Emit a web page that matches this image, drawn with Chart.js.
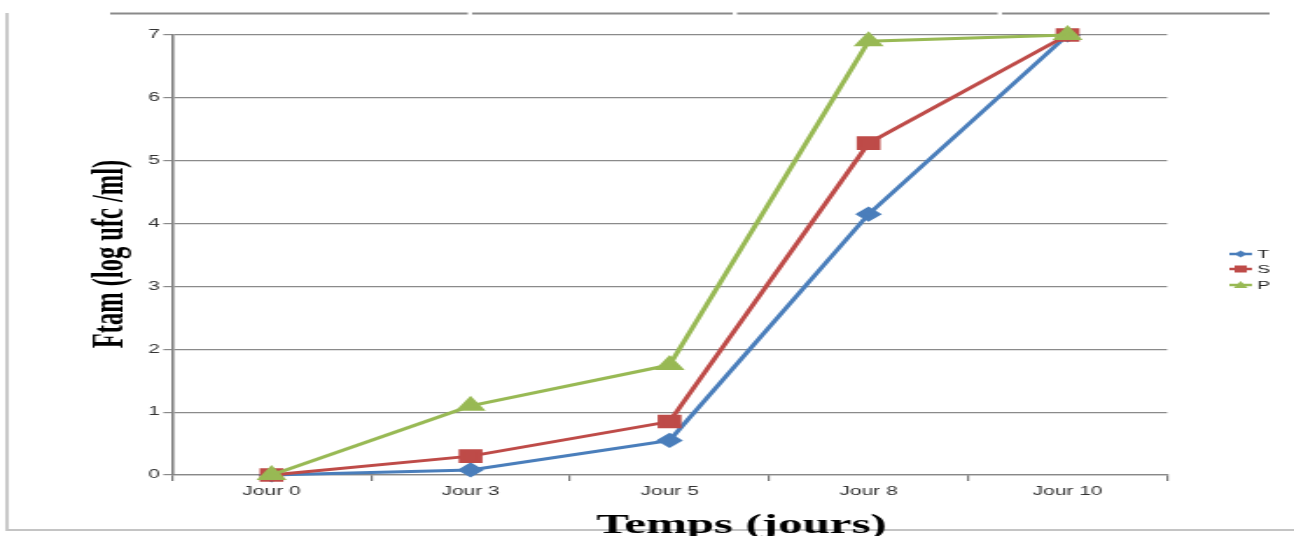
<!DOCTYPE html>
<html>
<head>
<meta charset="utf-8">
<script src="https://cdn.jsdelivr.net/npm/chart.js@4/dist/chart.umd.min.js"></script>
<style>
  html, body { margin: 0; padding: 0; background: #fff; overflow: hidden; }
  /* the original picture is stretched sideways, so the canvas is too */
  #ftam { width: 1294px; height: 536px; }
</style>
</head>
<body>
<canvas id="ftam" width="740" height="536" style="width:1294px;height:536px"></canvas>
<script>
// Daten
const jours = ['Jour 0', 'Jour 3', 'Jour 5', 'Jour 8', 'Jour 10'];
const serieT = [0, 0.08, 0.55, 4.15, 7];
const serieS = [0, 0.3, 0.85, 5.28, 7];
const serieP = [0, 1.1, 1.75, 6.9, 7];
const yTicks = [0, 1, 2, 3, 4, 5, 6, 7];

const bleu = '#4a7ebb';
const rouge = '#be4b48';
const vert = '#98b954';

// Rahmen, Achsentitel und Legende selbst zeichnen
const decoration = {
  id: 'decoration',
  beforeDraw(chart) {
    const ctx = chart.ctx;
    ctx.save();
    ctx.strokeStyle = '#c4c4c4';
    ctx.lineWidth = 1.8;
    ctx.beginPath();
    ctx.moveTo(4, 13);
    ctx.lineTo(4, 530);
    ctx.lineTo(740, 530);
    ctx.stroke();

    ctx.strokeStyle = '#8a8a8a';
    ctx.lineWidth = 2;
    [[63, 267.5], [270, 419], [421.5, 570.5], [573, 726]].forEach(([a, b]) => {
      ctx.beginPath();
      ctx.moveTo(a, 13.5);
      ctx.lineTo(b, 13.5);
      ctx.stroke();
    });
    ctx.restore();
  },
  afterDraw(chart) {
    const ctx = chart.ctx;
    ctx.save();
    ctx.fillStyle = '#000';

    // x title
    ctx.font = 'bold 28px "Liberation Serif", "DejaVu Serif", serif';
    ctx.textAlign = 'center';
    ctx.textBaseline = 'alphabetic';
    ctx.fillText('Temps (jours)', 424, 533);

    // y title
    ctx.translate(70, 254);
    ctx.rotate(-Math.PI / 2);
    ctx.font = 'bold 24.5px "Liberation Serif", "DejaVu Serif", serif';
    ctx.fillText('Ftam (log ufc /ml)', 0, 0);
    ctx.restore();

    // legend
    ctx.save();
    ctx.font = '11px "Liberation Sans", Arial, sans-serif';
    ctx.textBaseline = 'middle';
    ctx.textAlign = 'left';
    const ys = [254, 269, 285];
    chart.data.datasets.slice().sort((a, b) => b.order - a.order).forEach((ds, i) => {
      const y = ys[i];
      ctx.strokeStyle = ds.borderColor;
      ctx.fillStyle = ds.borderColor;
      ctx.lineWidth = 2.5;
      ctx.beginPath();
      ctx.moveTo(703, y);
      ctx.lineTo(716, y);
      ctx.stroke();
      const cx = 709.5;
      ctx.beginPath();
      if (ds.pointStyle === 'rectRot') {
        ctx.moveTo(cx, y - 3.5); ctx.lineTo(cx + 3.5, y); ctx.lineTo(cx, y + 3.5); ctx.lineTo(cx - 3.5, y);
      } else if (ds.pointStyle === 'rect') {
        ctx.rect(cx - 3.5, y - 3.5, 7, 7);
      } else {
        ctx.moveTo(cx, y - 4); ctx.lineTo(cx + 4, y + 3); ctx.lineTo(cx - 4, y + 3);
      }
      ctx.closePath();
      ctx.fill();
      ctx.fillStyle = '#222';
      ctx.fillText(ds.label, 719, y + 0.5);
    });
    ctx.restore();
  }
};

new Chart(document.getElementById('ftam'), {
  type: 'line',
  data: {
    labels: jours,
    datasets: [
      { label: 'T', data: serieT, order: 3, borderColor: bleu, backgroundColor: bleu,
        pointStyle: 'rectRot', pointRadius: 5.5, borderWidth: 3, clip: false },
      { label: 'S', data: serieS, order: 2, borderColor: rouge, backgroundColor: rouge,
        pointStyle: 'rect', pointRadius: 7.5, borderWidth: 3, clip: false },
      { label: 'P', data: serieP, order: 1, borderColor: vert, backgroundColor: vert,
        pointStyle: 'triangle', pointRadius: 7, borderWidth: 3, clip: false }
    ]
  },
  options: {
    responsive: false,
    devicePixelRatio: 1,
    animation: false,
    events: [],
    layout: { padding: { left: 58, right: 72.6, top: 35, bottom: 31 } },
    plugins: { legend: { display: false }, tooltip: { enabled: false } },
    scales: {
      x: {
        offset: true,
        afterFit: s => { s.height = 30; },
        grid: { offset: true, drawOnChartArea: false, drawTicks: true, tickLength: 6, color: '#777', lineWidth: 1.2 },
        border: { color: '#888', width: 1.2 },
        ticks: { color: '#333', padding: 3, font: { family: '"Liberation Sans", Arial, sans-serif', size: 12 } }
      },
      y: {
        min: 0,
        max: 7,
        afterFit: s => { s.width = 40.4; },
        afterBuildTicks: s => { s.ticks = yTicks.map(v => ({ value: v })); },
        grid: { color: '#8a8a8a', lineWidth: 1.2, tickLength: 5 },
        border: { color: '#808080', width: 1.6 },
        ticks: { color: '#333', padding: 2, font: { family: '"Liberation Sans", Arial, sans-serif', size: 12 } }
      }
    }
  },
  plugins: [decoration]
});
</script>
</body>
</html>
